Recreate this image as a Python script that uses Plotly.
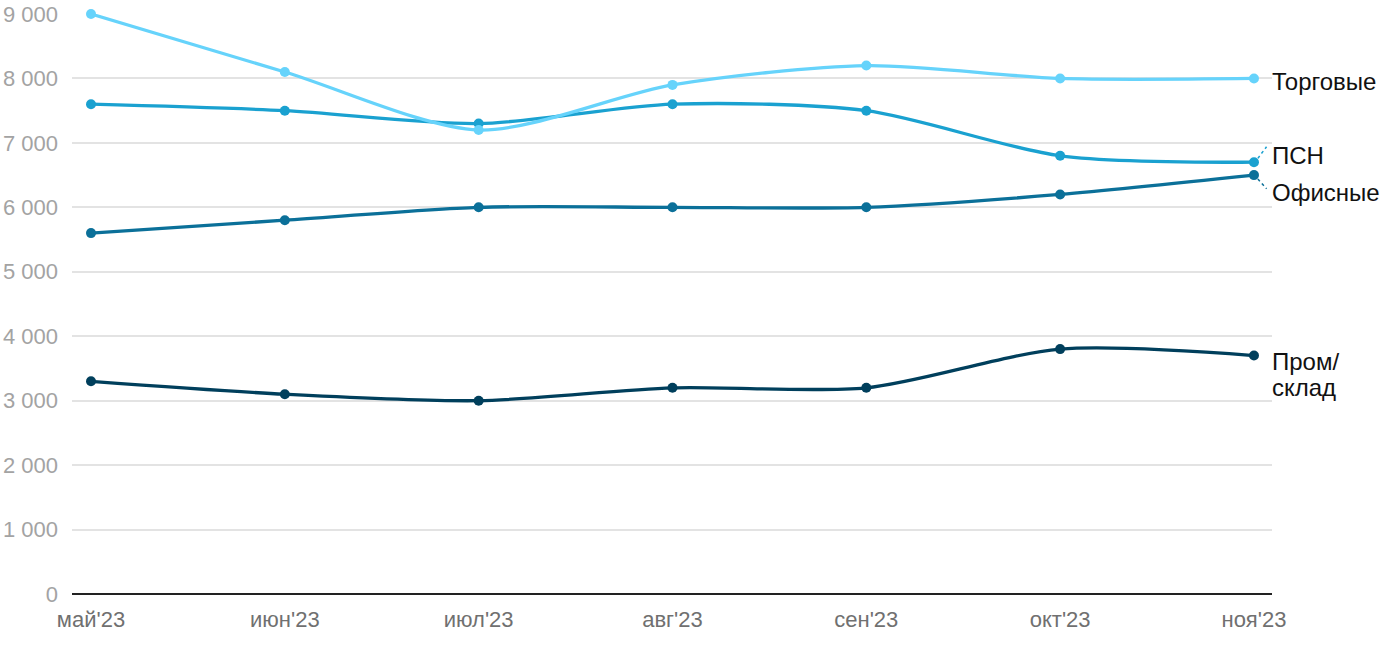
import plotly.graph_objects as go

months = ["май'23", "июн'23", "июл'23", "авг'23", "сен'23", "окт'23", "ноя'23"]
torg = [9000, 8100, 7200, 7900, 8200, 8000, 8000]
psn = [7600, 7500, 7300, 7600, 7500, 6800, 6700]
ofis = [5600, 5800, 6000, 6000, 6000, 6200, 6500]
prom = [3300, 3100, 3000, 3200, 3200, 3800, 3700]

series = [
    ("Пром/склад", prom, "#003f5c"),
    ("Офисные", ofis, "#0b7099"),
    ("ПСН", psn, "#1aa1d0"),
    ("Торговые", torg, "#66d3fb"),
]

y_ticks = [0, 1000, 2000, 3000, 4000, 5000, 6000, 7000, 8000, 9000]
y_labels = ["0", "1 000", "2 000", "3 000", "4 000", "5 000", "6 000", "7 000", "8 000", "9 000"]

# label text lines and their vertical anchor values
label_lines = [("Торговые", 7945), ("ПСН", 6812), ("Офисные", 6238), ("Пром/", 3615), ("склад", 3212)]

x_idx = list(range(len(months)))
FONT = "Liberation Sans, Arial, sans-serif"

fig = go.Figure()
for name, vals, col in series:
    fig.add_trace(go.Scatter(
        x=x_idx, y=vals, mode="lines+markers", name=name,
        line=dict(color=col, width=3.3, shape="spline", smoothing=0.8),
        marker=dict(color=col, size=10), cliponaxis=False, showlegend=False,
    ))

for text, yv in label_lines:
    fig.add_annotation(
        xref="paper", x=1, xanchor="left", xshift=-2,
        y=yv, yanchor="middle", text=text, showarrow=False,
        align="left", font=dict(size=24, color="#111111", family=FONT),
    )

# leader lines
last = len(months) - 1
fig.add_shape(type="line", xref="x", yref="y", x0=last + 0.02, x1=last + 0.065,
              y0=psn[-1] + 60, y1=psn[-1] + 240, line=dict(color="#1aa1d0", width=1.5, dash="dot"))
fig.add_shape(type="line", xref="x", yref="y", x0=last + 0.02, x1=last + 0.065,
              y0=ofis[-1] - 60, y1=ofis[-1] - 210, line=dict(color="#0b7099", width=1.5, dash="dot"))

fig.update_layout(
    width=1400, height=650,
    margin=dict(l=72, r=128, t=14, b=56, autoexpand=False),
    plot_bgcolor="white", paper_bgcolor="white",
    font=dict(family=FONT, size=22),
    xaxis=dict(
        tickmode="array", tickvals=x_idx, ticktext=months,
        range=[-0.098, 6.093], showgrid=False, zeroline=False, automargin=False,
        showline=False, ticks="", tickfont=dict(size=22, color="#707070"),
        ticklabelstandoff=10,
    ),
    yaxis=dict(
        tickmode="array", tickvals=y_ticks, ticktext=y_labels, automargin=False,
        range=[0, 9000], showgrid=True, gridcolor="#e3e3e3", gridwidth=1.5,
        zeroline=True, zerolinecolor="#222222", zerolinewidth=2,
        ticks="", tickfont=dict(size=22, color="#a3a3a3"), ticklabelstandoff=13,
    ),
)

fig.write_html("out.html", config={"displayModeBar": False},
               post_script=["document.body.style.margin='0';"])
